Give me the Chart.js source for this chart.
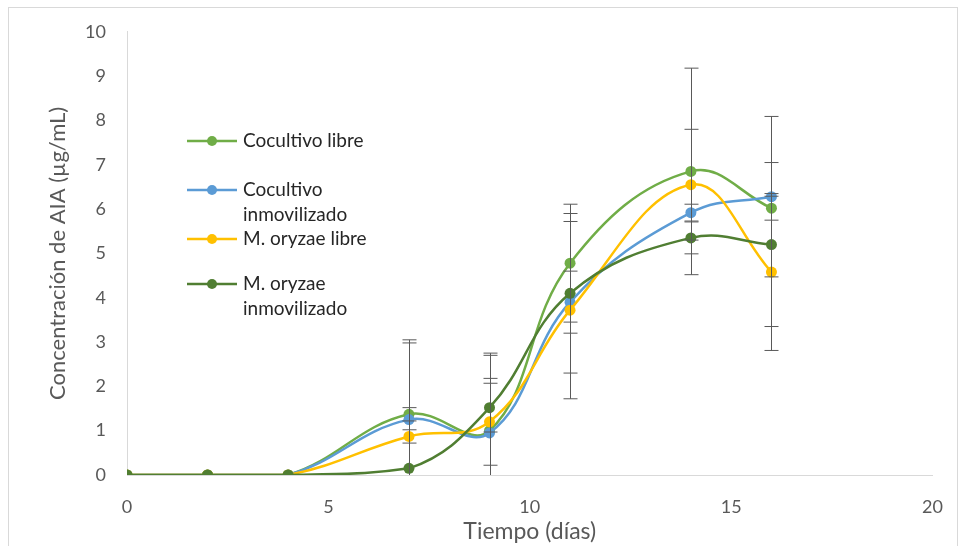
<!DOCTYPE html>
<html>
<head>
<meta charset="utf-8">
<script src="https://cdn.jsdelivr.net/npm/chart.js@4.4.0/dist/chart.umd.min.js"></script>
<style>
    body { margin: 0; background: #fff; }
    .chart-box { position: relative; width: 964px; height: 546px; }
</style>
</head>
<body>
<div class="chart-box"><canvas id="aiaChart"></canvas></div>
<script>
const days = [0, 2, 4, 7, 9, 11, 14, 16]
const xTicks = [0, 5, 10, 15, 20]
const yTicks = [0, 1, 2, 3, 4, 5, 6, 7, 8, 9, 10]

const seriesNames = ['Cocultivo libre', 'Cocultivo inmovilizado', 'M. oryzae libre', 'M. oryzae inmovilizado']
const legendLines = [['Cocultivo libre'], ['Cocultivo', 'inmovilizado'], ['M. oryzae libre'], ['M. oryzae', 'inmovilizado']]

const cocultivoLibre = [0, 0, 0, 1.37, 1.0, 4.78, 6.85, 6.02]
const cocultivoInmov = [0, 0, 0, 1.25, 0.95, 3.9, 5.92, 6.28]
const oryzaeLibre = [0, 0, 0, 0.87, 1.2, 3.72, 6.55, 4.58]
const oryzaeInmov = [0, 0, 0, 0.15, 1.52, 4.1, 5.35, 5.2]

// symmetric error bars (+/-)
const errCocultivoLibre = [0, 0, 0, 0.15, 1.7, 1.33, 2.33, 0.27]
const errCocultivoInmov = [0, 0, 0, 1.8, 1.8, 0.7, 0.19, 1.81]
const errOryzaeLibre = [0, 0, 0, 0.15, 0.98, 2.0, 1.25, 1.77]
const errOryzaeInmov = [0, 0, 0, 2.83, 0.55, 1.8, 0.36, 1.85]

const colors = ['#70AD47', '#5B9BD5', '#FFC000', '#507E32']
const values = [cocultivoLibre, cocultivoInmov, oryzaeLibre, oryzaeInmov]
const errors = [errCocultivoLibre, errCocultivoInmov, errOryzaeLibre, errOryzaeInmov]

const FONT = 'Lato'
const TEXT = '#595959'

const errorBars = {
    id: 'errorBars',
    afterDatasetsDraw(chart) {
        const {ctx, chartArea: a, scales: {x, y}} = chart
        ctx.save()
        ctx.beginPath()
        ctx.rect(a.left, a.top - 1, a.right - a.left, a.bottom - a.top + 1)
        ctx.clip()
        ctx.strokeStyle = '#595959'
        ctx.lineWidth = 1
        errors.forEach((errs, i) => {
            errs.forEach((e, j) => {
                if (!e) return
                const px = Math.round(x.getPixelForValue(days[j])) + 0.5
                const top = y.getPixelForValue(values[i][j] + e)
                const bot = y.getPixelForValue(values[i][j] - e)
                ctx.beginPath()
                ctx.moveTo(px, top)
                ctx.lineTo(px, bot)
                ctx.moveTo(px - 7, top)
                ctx.lineTo(px + 7, top)
                ctx.moveTo(px - 7, bot)
                ctx.lineTo(px + 7, bot)
                ctx.stroke()
            })
        })
        ctx.restore()
    }
}

const innerLegend = {
    id: 'innerLegend',
    afterDraw(chart) {
        const {ctx} = chart
        const rows = [141, 190, 239, 284]
        ctx.save()
        ctx.font = `19px ${FONT}`
        ctx.textBaseline = 'middle'
        legendLines.forEach((lines, i) => {
            const ly = rows[i]
            ctx.strokeStyle = colors[i]
            ctx.lineWidth = 2.5
            ctx.beginPath()
            ctx.moveTo(187, ly)
            ctx.lineTo(237, ly)
            ctx.stroke()
            ctx.fillStyle = colors[i]
            ctx.beginPath()
            ctx.arc(212, ly, 5, 0, Math.PI * 2)
            ctx.fill()
            ctx.fillStyle = '#262626'
            lines.forEach((t, k) => ctx.fillText(t, 243, ly + k * 25))
        })
        // chart frame
        ctx.strokeStyle = '#d9d9d9'
        ctx.lineWidth = 1
        ctx.strokeRect(8.5, 7.5, 949, 560)
        ctx.restore()
    }
}

new Chart(document.getElementById('aiaChart'), {
    type: 'line',
    data: {
        datasets: seriesNames.map((name, i) => ({
            label: name,
            data: days.map((d, j) => ({x: d, y: values[i][j]})),
            borderColor: colors[i],
            backgroundColor: colors[i],
            borderWidth: 2.5,
            pointRadius: 5.5,
            pointBorderWidth: 0,
            tension: 0.4,
            order: 4 - i,
        }))
    },
    options: {
        responsive: true,
        maintainAspectRatio: false,
        animation: false,
        layout: {padding: {top: 30, right: 27, left: 0, bottom: 0}},
        scales: {
            x: {
                type: 'linear',
                min: 0,
                max: 20,
                afterFit: s => { s.height = 71 },
                afterBuildTicks: s => { s.ticks = xTicks.map(v => ({value: v})) },
                grid: {drawOnChartArea: false, drawTicks: false},
                border: {color: '#d9d9d9', width: 1},
                ticks: {color: TEXT, font: {family: FONT, size: 18}, padding: 21},
                title: {
                    display: true,
                    text: 'Tiempo (días)',
                    color: TEXT,
                    font: {family: FONT, size: 23, lineHeight: 1.2},
                    padding: {top: 0, bottom: 1}
                }
            },
            y: {
                min: 0,
                max: 10,
                afterFit: s => { s.width = 127 },
                afterBuildTicks: s => { s.ticks = yTicks.map(v => ({value: v})) },
                grid: {drawOnChartArea: false, drawTicks: false},
                border: {color: '#d9d9d9', width: 1},
                ticks: {color: TEXT, font: {family: FONT, size: 18}, padding: 21},
                title: {
                    display: true,
                    text: 'Concentración de AIA (µg/mL)',
                    color: TEXT,
                    font: {family: FONT, size: 22, lineHeight: 1.2},
                    padding: {top: 45, bottom: 0}
                }
            }
        },
        plugins: {
            legend: {display: false},
            tooltip: {enabled: false}
        }
    },
    plugins: [errorBars, innerLegend]
})
</script>
</body>
</html>
